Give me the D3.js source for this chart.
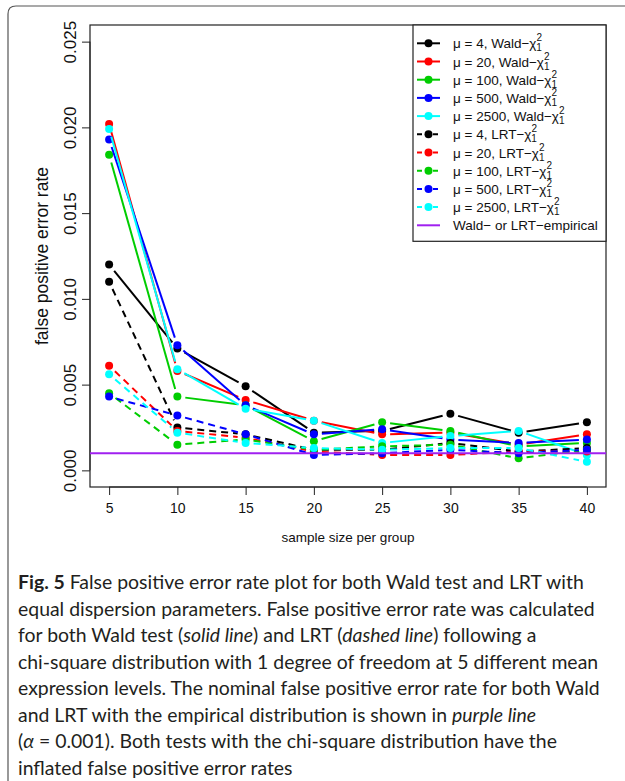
<!DOCTYPE html>
<html>
<head>
<meta charset="utf-8">
<script src="https://cdn.jsdelivr.net/npm/d3@7"></script>
<style>
  html, body { margin: 0; padding: 0; background: #fff; }
  svg { display: block; }
</style>
</head>
<body>
<svg id="chart" width="625" height="781"></svg>
<script>
"use strict";

// sample size per group (x) and mean expression levels
var sampleSizes = [5, 10, 15, 20, 25, 30, 35, 40];
var muLevels = [4, 20, 100, 500, 2500];

// false positive error rates, Wald test with chi-square(1)
var wald4    = [0.0120, 0.0071, 0.0049, 0.0022, 0.0023, 0.0033, 0.0022, 0.0028];
var wald20   = [0.0202, 0.0058, 0.0041, 0.0029, 0.0021, 0.0022, 0.0015, 0.0021];
var wald100  = [0.0184, 0.0043, 0.0038, 0.0017, 0.0028, 0.0023, 0.0014, 0.0016];
var wald500  = [0.0193, 0.0073, 0.0038, 0.0021, 0.0024, 0.0018, 0.0016, 0.0018];
var wald2500 = [0.0199, 0.0059, 0.0036, 0.0029, 0.0016, 0.0020, 0.0023, 0.0009];

// false positive error rates, LRT with chi-square(1)
var lrt4    = [0.0110, 0.0025, 0.0021, 0.0012, 0.0012, 0.0016, 0.0011, 0.0013];
var lrt20   = [0.0061, 0.0023, 0.0019, 0.0011, 0.0009, 0.0009, 0.0011, 0.0011];
var lrt100  = [0.0045, 0.0015, 0.0018, 0.0012, 0.0014, 0.0015, 0.0007, 0.0012];
var lrt500  = [0.0043, 0.0032, 0.0021, 0.0009, 0.0010, 0.0012, 0.0010, 0.0012];
var lrt2500 = [0.0056, 0.0022, 0.0016, 0.0013, 0.0012, 0.0013, 0.0013, 0.0005];

// nominal rate with empirical distribution
var empiricalRate = 0.001;

var yTickValues = [0, 0.005, 0.010, 0.015, 0.020, 0.025];
var xTickValues = sampleSizes;

var seriesColors = ["#000000", "#FF0000", "#00CD00", "#0000FF", "#00FFFF"];
var empiricalColor = "#A020F0";

var captionLines = [
  [{t: "Fig. 5", b: true}, {t: " False positive error rate plot for both Wald test and LRT with"}],
  [{t: "equal dispersion parameters. False positive error rate was calculated"}],
  [{t: "for both Wald test ("}, {t: "solid line", i: true}, {t: ") and LRT ("}, {t: "dashed line", i: true}, {t: ") following a"}],
  [{t: "chi-square distribution with 1 degree of freedom at 5 different mean"}],
  [{t: "expression levels. The nominal false positive error rate for both Wald"}],
  [{t: "and LRT with the empirical distribution is shown in "}, {t: "purple line", i: true}],
  [{t: "("}, {t: "\u03b1", i: true}, {t: " = 0.001). Both tests with the chi-square distribution have the"}],
  [{t: "inflated false positive error rates"}]
];

var AXIS_FONT = "'Liberation Sans', Arial, Helvetica, sans-serif";
var CAPTION_FONT = "Lato, 'Open Sans', sans-serif";
var LINE_W = 2;
var POINT_R = 4;
var GAP = 8;
var DASH = "7,5";

var svg = d3.select("#chart");

// outer rounded frame (open at right and bottom)
svg.append("path")
  .attr("d", "M8,781 L8,14 Q8,6 16,6 L625,6")
  .attr("fill", "none")
  .attr("stroke", "#555")
  .attr("stroke-width", 1.2);

var plot = { left: 90, right: 606, top: 25, bottom: 487 };

var x = d3.scaleLinear().domain([3.6, 41.4]).range([plot.left, plot.right]);
var y = d3.scaleLinear().domain([-0.00097, 0.02597]).range([plot.bottom, plot.top]);

// axes
var yAxis = svg.append("g")
  .attr("transform", "translate(" + plot.left + ",0)")
  .call(d3.axisLeft(y).tickValues(yTickValues).tickFormat(d3.format(".3f")).tickSize(8));
yAxis.select(".domain").attr("d", "M0," + y(0) + "V" + y(0.025)).attr("stroke", "#222");
yAxis.selectAll(".tick line").attr("stroke", "#222");
yAxis.selectAll(".tick text")
  .attr("font-family", AXIS_FONT)
  .attr("font-size", 17)
  .attr("fill", "#111")
  .attr("text-anchor", "middle")
  .attr("x", 0)
  .attr("y", 0)
  .attr("dy", "0.35em")
  .attr("transform", "translate(-20,0) rotate(-90)");

var xAxis = svg.append("g")
  .attr("transform", "translate(0," + plot.bottom + ")")
  .call(d3.axisBottom(x).tickValues(xTickValues).tickSize(8));
xAxis.select(".domain").attr("d", "M" + x(5) + ",0H" + x(40)).attr("stroke", "#222");
xAxis.selectAll(".tick line").attr("stroke", "#222");
xAxis.selectAll(".tick text")
  .attr("font-family", AXIS_FONT)
  .attr("font-size", 14)
  .attr("fill", "#111")
  .attr("y", 21)
  .attr("dy", "0.35em");

// plot box
svg.append("rect")
  .attr("x", plot.left)
  .attr("y", plot.top)
  .attr("width", plot.right - plot.left)
  .attr("height", plot.bottom - plot.top)
  .attr("fill", "none")
  .attr("stroke", "#222")
  .attr("stroke-width", 1.2);

// axis titles
svg.append("text")
  .attr("transform", "translate(42," + ((plot.top + plot.bottom) / 2) + ") rotate(-90)")
  .attr("text-anchor", "middle")
  .attr("dy", "0.35em")
  .attr("font-family", AXIS_FONT)
  .attr("font-size", 17.5)
  .attr("fill", "#111")
  .text("false positive error rate");

svg.append("text")
  .attr("x", (plot.left + plot.right) / 2)
  .attr("y", 537)
  .attr("text-anchor", "middle")
  .attr("dy", "0.35em")
  .attr("font-family", AXIS_FONT)
  .attr("font-size", 13.5)
  .attr("fill", "#111")
  .text("sample size per group");

// series: Wald (solid) then LRT (dashed)
var series = [
  { name: "\u03bc = 4, Wald\u2212", values: wald4, color: seriesColors[0], dashed: false },
  { name: "\u03bc = 20, Wald\u2212", values: wald20, color: seriesColors[1], dashed: false },
  { name: "\u03bc = 100, Wald\u2212", values: wald100, color: seriesColors[2], dashed: false },
  { name: "\u03bc = 500, Wald\u2212", values: wald500, color: seriesColors[3], dashed: false },
  { name: "\u03bc = 2500, Wald\u2212", values: wald2500, color: seriesColors[4], dashed: false },
  { name: "\u03bc = 4, LRT\u2212", values: lrt4, color: seriesColors[0], dashed: true },
  { name: "\u03bc = 20, LRT\u2212", values: lrt20, color: seriesColors[1], dashed: true },
  { name: "\u03bc = 100, LRT\u2212", values: lrt100, color: seriesColors[2], dashed: true },
  { name: "\u03bc = 500, LRT\u2212", values: lrt500, color: seriesColors[3], dashed: true },
  { name: "\u03bc = 2500, LRT\u2212", values: lrt2500, color: seriesColors[4], dashed: true }
];

// type="b" style: segments with a gap round each point
function gappedSegments(values) {
  var segs = [];
  for (var i = 0; i < values.length - 1; i++) {
    var x0 = x(sampleSizes[i]), y0 = y(values[i]);
    var x1 = x(sampleSizes[i + 1]), y1 = y(values[i + 1]);
    var dx = x1 - x0, dy = y1 - y0;
    var len = Math.sqrt(dx * dx + dy * dy);
    if (len <= 2 * GAP) continue;
    var ux = dx / len, uy = dy / len;
    segs.push([x0 + ux * GAP, y0 + uy * GAP, x1 - ux * GAP, y1 - uy * GAP]);
  }
  return segs;
}

var body = svg.append("g");
series.forEach(function (s) {
  var g = body.append("g");
  g.selectAll("line")
    .data(gappedSegments(s.values))
    .enter()
    .append("line")
    .attr("x1", function (d) { return d[0]; })
    .attr("y1", function (d) { return d[1]; })
    .attr("x2", function (d) { return d[2]; })
    .attr("y2", function (d) { return d[3]; })
    .attr("stroke", s.color)
    .attr("stroke-width", LINE_W)
    .attr("stroke-dasharray", s.dashed ? DASH : null);
  g.selectAll("circle")
    .data(s.values)
    .enter()
    .append("circle")
    .attr("cx", function (d, i) { return x(sampleSizes[i]); })
    .attr("cy", function (d) { return y(d); })
    .attr("r", POINT_R)
    .attr("fill", s.color);
});

// empirical line
svg.append("line")
  .attr("x1", plot.left)
  .attr("x2", plot.right)
  .attr("y1", y(empiricalRate))
  .attr("y2", y(empiricalRate))
  .attr("stroke", empiricalColor)
  .attr("stroke-width", 2);

// legend
var legend = { left: 413, top: 25, right: 606, rowH: 18.2, firstRow: 43.3 };
var legendRows = series.length + 1;
svg.append("rect")
  .attr("x", legend.left)
  .attr("y", legend.top)
  .attr("width", legend.right - legend.left)
  .attr("height", legend.firstRow - legend.top + (legendRows - 1) * legend.rowH + 16)
  .attr("fill", "#fff")
  .attr("stroke", "#222")
  .attr("stroke-width", 1.2);

series.forEach(function (s, i) {
  var cy = legend.firstRow + i * legend.rowH;
  var row = svg.append("g");
  row.append("line")
    .attr("x1", 417).attr("x2", 440)
    .attr("y1", cy).attr("y2", cy)
    .attr("stroke", s.color)
    .attr("stroke-width", LINE_W)
    .attr("stroke-dasharray", s.dashed ? "5,3" : null);
  row.append("circle")
    .attr("cx", 428.5).attr("cy", cy)
    .attr("r", POINT_R)
    .attr("fill", s.color);
  var t = row.append("text")
    .attr("x", 453)
    .attr("y", cy + 5)
    .attr("font-family", AXIS_FONT)
    .attr("font-size", 13.5)
    .attr("fill", "#111");
  t.append("tspan").text(s.name + "\u03c7");
  t.append("tspan").attr("font-size", 10).attr("dy", -7).text("2");
  t.append("tspan").attr("font-size", 10).attr("dx", -5.6).attr("dy", 10).text("1");
});

(function () {
  var cy = legend.firstRow + series.length * legend.rowH;
  svg.append("line")
    .attr("x1", 417).attr("x2", 440)
    .attr("y1", cy).attr("y2", cy)
    .attr("stroke", empiricalColor)
    .attr("stroke-width", 2);
  svg.append("text")
    .attr("x", 453)
    .attr("y", cy + 5)
    .attr("font-family", AXIS_FONT)
    .attr("font-size", 13.5)
    .attr("fill", "#111")
    .text("Wald\u2212 or LRT\u2212empirical");
})();

// caption
var caption = svg.append("g");
var capSize = 19;
captionLines.forEach(function (runs, li) {
  var t = caption.append("text")
    .attr("x", 18)
    .attr("y", 589 + li * 26.5)
    .attr("font-family", CAPTION_FONT)
    .attr("font-size", capSize)
    .attr("fill", "#231f20");
  runs.forEach(function (r) {
    t.append("tspan")
      .attr("font-weight", r.b ? "bold" : null)
      .attr("font-style", r.i ? "italic" : null)
      .text(r.t);
  });
});
// fit the longest caption line to the column width
var widest = 0;
caption.selectAll("text").each(function () { widest = Math.max(widest, this.getComputedTextLength()); });
caption.selectAll("text").attr("font-size", capSize * 582 / widest);
</script>
</body>
</html>
